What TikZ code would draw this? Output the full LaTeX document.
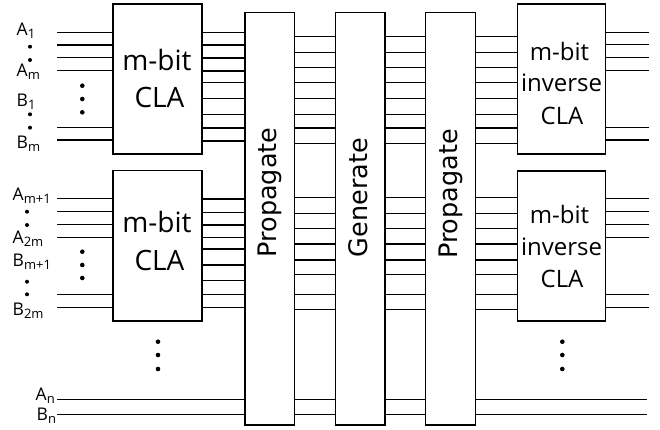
\documentclass[tikz,border=0pt]{standalone}
\usepackage{fontspec}
\setmainfont{Open Sans}
\newfontfamily\stagefont{DejaVu Sans}
\begin{document}
\begin{tikzpicture}[x=1pt,y=-1pt,line width=1.4pt,
  blk/.style={draw, fill=white, inner sep=0pt, outer sep=0pt, anchor=north west},
  wire/.style={line width=1.4pt},
  dotmark/.style={fill, circle, inner sep=0pt, minimum size=4.6pt},
  lbl/.style={anchor=base west, inner sep=0pt, font=\fontsize{17.5}{18}\selectfont},
  clatext/.style={anchor=base, inner sep=0pt, font=\fontsize{28}{28}\selectfont},
  invtext/.style={anchor=base, inner sep=0pt, font=\fontsize{24}{24}\selectfont},
  stage/.style={anchor=base, rotate=90, inner sep=0pt, font=\stagefont\fontsize{25.5}{25.5}\selectfont}]
\newcommand{\sbs}[1]{\raisebox{-3pt}{\fontsize{13}{13}\selectfont #1}}
\useasboundingbox[fill=white] (0,0) rectangle (660,429);

% left end of the input wires, right end of the output wires
\coordinate (inx) at (57,0);
\coordinate (outx) at (649,0);
\coordinate (endx) at (647,0);

% stage columns
\node[blk, minimum width=49.3pt, minimum height=412.7pt] (P1) at (245,12.3) {};
\node[blk, minimum width=49.3pt, minimum height=412.7pt] (G) at (335.7,12.3) {};
\node[blk, minimum width=49.6pt, minimum height=412.7pt] (P2) at (425.7,12.3) {};

% m-bit CLA blocks
\node[blk, minimum width=89pt, minimum height=150pt] (C1) at (113,4) {};
\node[blk, minimum width=89pt, minimum height=150.3pt] (C2) at (113,170.7) {};
% inverse CLA blocks
\node[blk, minimum width=88.4pt, minimum height=150pt] (I1) at (517.3,4) {};
\node[blk, minimum width=88.4pt, minimum height=150pt] (I2) at (517.3,171) {};

% ---- wires, first group ----
\foreach \y in {32.5,45,57.7,70.7,127.3,140}
  \draw[wire] (inx |- 0,\y) -- (C1.west |- 0,\y);
\foreach \y in {32.5,45,58,71,82.7,98.7,114.2,127.8,141}
  \draw[wire] (C1.east |- 0,\y) -- (P1.west |- 0,\y);
\foreach \y in {36.7,52.3,67.7,82.7,98.2,114.2,128,143.7}{
  \draw[wire] (P1.east |- 0,\y) -- (G.west |- 0,\y);
  \draw[wire] (G.east |- 0,\y) -- (P2.west |- 0,\y);
  \draw[wire] (P2.east |- 0,\y) -- (I1.west |- 0,\y);
}
\foreach \y in {32.3,44.5,57.7,70.7,127.3,140}
  \draw[wire] (I1.east |- 0,\y) -- (outx |- 0,\y);

% ---- wires, second group ----
\foreach \y in {198.7,211.7,224.3,237.3,294.7,307.3}
  \draw[wire] (inx |- 0,\y) -- (C2.west |- 0,\y);
\foreach \y in {199,212.3,225,237.7,249,265,280.7,294.3,307.5}
  \draw[wire] (C2.east |- 0,\y) -- (P1.west |- 0,\y);
\foreach \y in {197.7,213.3,228.7,244,259.8,274.7,294.2,309.5}{
  \draw[wire] (P1.east |- 0,\y) -- (G.west |- 0,\y);
  \draw[wire] (G.east |- 0,\y) -- (P2.west |- 0,\y);
  \draw[wire] (P2.east |- 0,\y) -- (I2.west |- 0,\y);
}
\foreach \y in {198.7,211.7,224.3,237.3,294.7,307.3}
  \draw[wire] (I2.east |- 0,\y) -- (outx |- 0,\y);

% ---- wires, last bit ----
\foreach \y in {399.5,414.7}{
  \draw[wire] (inx |- 0,\y) -- (P1.west |- 0,\y);
  \draw[wire] (P1.east |- 0,\y) -- (G.west |- 0,\y);
  \draw[wire] (G.east |- 0,\y) -- (P2.west |- 0,\y);
  \draw[wire] (P2.east |- 0,\y) -- (endx |- 0,\y);
}

% ---- block texts ----
\node[clatext] (c1a) at (157,70) {m-bit};
\node[clatext] (c1b) at (159.5,107) {CLA};
\node[clatext] (c2a) at (157,232) {m-bit};
\node[clatext] (c2b) at (159.5,270) {CLA};
\node[invtext] (i1a) at (559.5,60) {m-bit};
\node[invtext] (i1b) at (561.5,91.7) {inverse};
\node[invtext] (i1c) at (562,124) {CLA};
\node[invtext] (i2a) at (559.5,223.3) {m-bit};
\node[invtext] (i2b) at (561.5,255) {inverse};
\node[invtext] (i2c) at (562,287.7) {CLA};

\node[stage] (t1) at (276,192.5) {Propagate};
\node[stage] (t2) at (367,197.5) {Generate};
\node[stage] (t3) at (457.5,194) {Propagate};

% ---- input labels ----
\node[lbl] (a1) at (16,35) {A\sbs{1}};
\node[lbl] (am) at (16,76) {A\sbs{m}};
\node[lbl] (b1) at (16,106) {B\sbs{1}};
\node[lbl] (bm) at (16,148) {B\sbs{m}};
\node[lbl] (am1) at (12,200) {A\sbs{m+1}};
\node[lbl] (a2m) at (12,243.3) {A\sbs{2m}};
\node[lbl] (bm1) at (12,266.7) {B\sbs{m+1}};
\node[lbl] (b2m) at (12,315) {B\sbs{2m}};
\node[lbl] (an) at (35,400) {A\sbs{n}};
\node[lbl] (bn) at (36,420) {B\sbs{n}};

% ---- ellipsis dots ----
\foreach \x/\y in {30/46.7,30/60,30/114.3,30/127.7,
                   27/211.7,27/225,27/281.7,27/294.3}
  \node[dotmark, minimum size=4pt] at (\x,\y) {};
\foreach \x/\y in {82.3/85.7,82.3/99,82.3/112.3,
                   82.3/251.7,82.3/265,82.3/278,
                   158/341.7,158/355,158/369,
                   562.3/341.7,562.3/355,562.3/369}
  \node[dotmark] at (\x,\y) {};
\end{tikzpicture}
\end{document}
